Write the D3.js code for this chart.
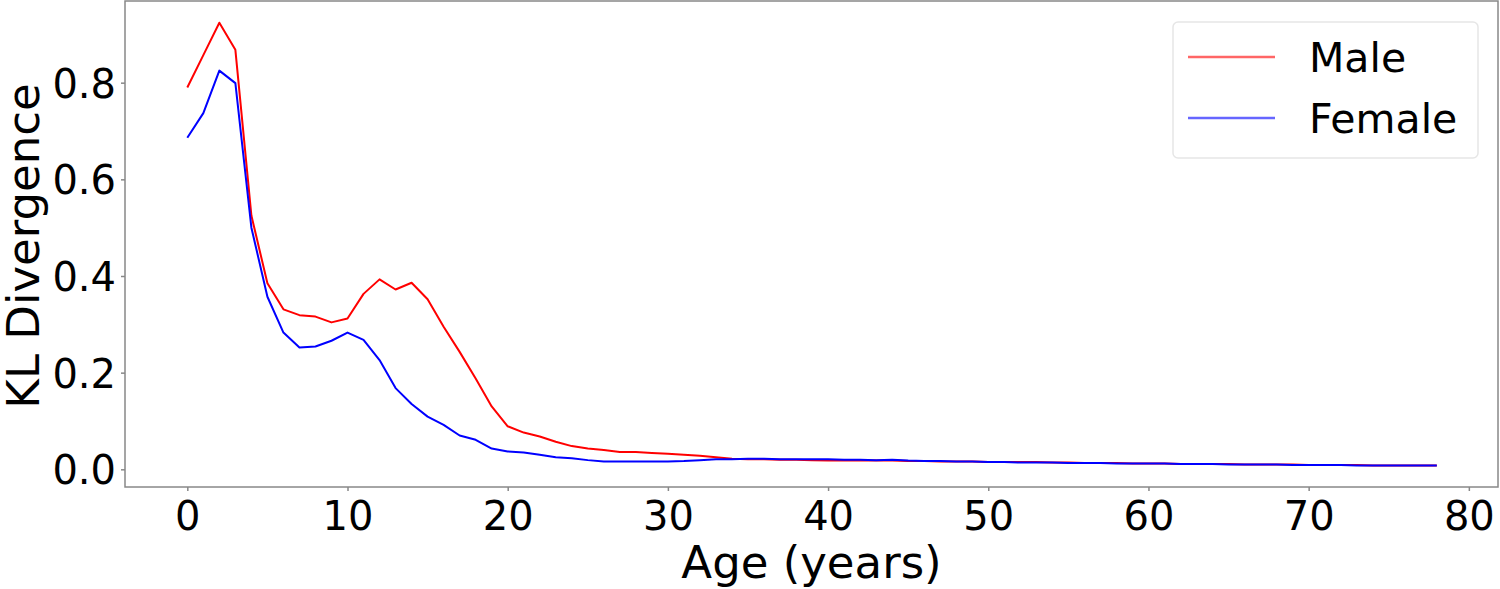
<!DOCTYPE html>
<html>
<head>
<meta charset="utf-8">
<script src="https://cdn.jsdelivr.net/npm/d3@7"></script>
<style>
body { margin: 0; background: #fff; }
svg text { font-family: "DejaVu Sans", sans-serif; fill: #000; }
</style>
</head>
<body>
<svg id="chart" width="1500" height="589"></svg>
<script>
var ages = d3.range(0, 79);
var male = [0.790, 0.857, 0.924, 0.868, 0.525, 0.385, 0.331, 0.319, 0.316, 0.304,
	0.312, 0.363, 0.393, 0.372, 0.386, 0.352, 0.295, 0.243, 0.188, 0.130,
	0.089, 0.076, 0.068, 0.057, 0.048, 0.043, 0.040, 0.036, 0.036, 0.034,
	0.032, 0.030, 0.028, 0.025, 0.022, 0.021, 0.021, 0.020, 0.020, 0.019,
	0.018, 0.019, 0.018, 0.018, 0.018, 0.017, 0.017, 0.016, 0.016, 0.016,
	0.015, 0.015, 0.015, 0.015, 0.014, 0.014, 0.013, 0.013, 0.013, 0.012,
	0.012, 0.012, 0.011, 0.011, 0.011, 0.011, 0.010, 0.010, 0.010, 0.010,
	0.009, 0.009, 0.009, 0.009, 0.008, 0.008, 0.008, 0.008, 0.008];
var female = [0.686, 0.737, 0.825, 0.799, 0.500, 0.357, 0.283, 0.252, 0.254, 0.266,
	0.283, 0.268, 0.226, 0.168, 0.135, 0.109, 0.092, 0.070, 0.061, 0.043,
	0.037, 0.035, 0.030, 0.025, 0.023, 0.019, 0.016, 0.016, 0.016, 0.016,
	0.016, 0.017, 0.019, 0.021, 0.021, 0.022, 0.022, 0.021, 0.021, 0.021,
	0.021, 0.020, 0.020, 0.019, 0.020, 0.018, 0.017, 0.017, 0.016, 0.016,
	0.015, 0.015, 0.014, 0.014, 0.014, 0.013, 0.013, 0.013, 0.012, 0.012,
	0.012, 0.012, 0.011, 0.011, 0.011, 0.010, 0.010, 0.010, 0.010, 0.009,
	0.009, 0.009, 0.009, 0.008, 0.008, 0.008, 0.008, 0.008, 0.008];
var xTicks = [0, 10, 20, 30, 40, 50, 60, 70, 80];
var yTicks = [0.0, 0.2, 0.4, 0.6, 0.8];
var seriesNames = ["Male", "Female"];
var seriesColors = ["#ff0000", "#0000ff"];

var plotLeft = 125, plotRight = 1498, plotTop = 1, plotBottom = 487;
var svg = d3.select("#chart");

var x = d3.scaleLinear().domain([-3.89, 81.82]).range([plotLeft, plotRight]);
var y = d3.scaleLinear().domain([-0.0366, 0.969]).range([plotBottom, plotTop]);

// axes
var xAxis = svg.append("g")
	.attr("transform", "translate(0," + plotBottom + ")")
	.call(d3.axisBottom(x).tickValues(xTicks).tickSize(4).tickPadding(10).tickFormat(d3.format("d")));
var yAxis = svg.append("g")
	.attr("transform", "translate(" + plotLeft + ",0)")
	.call(d3.axisLeft(y).tickValues(yTicks).tickSize(4).tickPadding(5).tickFormat(d3.format(".1f")));

[xAxis, yAxis].forEach(function (a) {
	a.select(".domain").remove();
	a.selectAll(".tick line").attr("stroke", "#888").attr("stroke-width", 1.5);
	a.selectAll(".tick text").style("font-size", "40px").attr("fill", "#000");
});
yAxis.selectAll(".tick text").attr("dy", "0.36em");
xAxis.selectAll(".tick text").attr("dy", "0.72em");

// lines
var line = d3.line()
	.x(function (d, i) { return x(ages[i]); })
	.y(function (d) { return y(d); });

[male, female].forEach(function (s, i) {
	svg.append("path")
		.datum(s)
		.attr("fill", "none")
		.attr("stroke", seriesColors[i])
		.attr("stroke-width", 2)
		.attr("stroke-linejoin", "round")
		.attr("d", line);
});

// frame
svg.append("rect")
	.attr("x", plotLeft).attr("y", plotTop)
	.attr("width", plotRight - plotLeft).attr("height", plotBottom - plotTop)
	.attr("fill", "none")
	.attr("stroke", "#888")
	.attr("stroke-width", 1.5);

// axis labels
svg.append("text")
	.attr("x", (plotLeft + plotRight) / 2)
	.attr("y", 578)
	.attr("text-anchor", "middle")
	.style("font-size", "45px")
	.text("Age (years)");
svg.append("text")
	.attr("transform", "translate(39," + ((plotTop + plotBottom) / 2 + 2) + ") rotate(-90)")
	.attr("text-anchor", "middle")
	.style("font-size", "45px")
	.text("KL Divergence");

// legend
var legend = svg.append("g");
legend.append("rect")
	.attr("x", 1173).attr("y", 22)
	.attr("width", 305).attr("height", 136)
	.attr("rx", 5)
	.attr("fill", "#fff")
	.attr("stroke", "#e6e6e6")
	.attr("stroke-width", 1.5);
seriesNames.forEach(function (name, i) {
	var ly = 57 + i * 61;
	legend.append("line")
		.attr("x1", 1188).attr("x2", 1275)
		.attr("y1", ly).attr("y2", ly)
		.attr("stroke", seriesColors[i])
		.attr("stroke-opacity", 0.6)
		.attr("stroke-width", 2.5);
	legend.append("text")
		.attr("x", 1309)
		.attr("y", ly)
		.attr("dy", "0.36em")
		.style("font-size", "41px")
		.text(name);
});
</script>
</body>
</html>
